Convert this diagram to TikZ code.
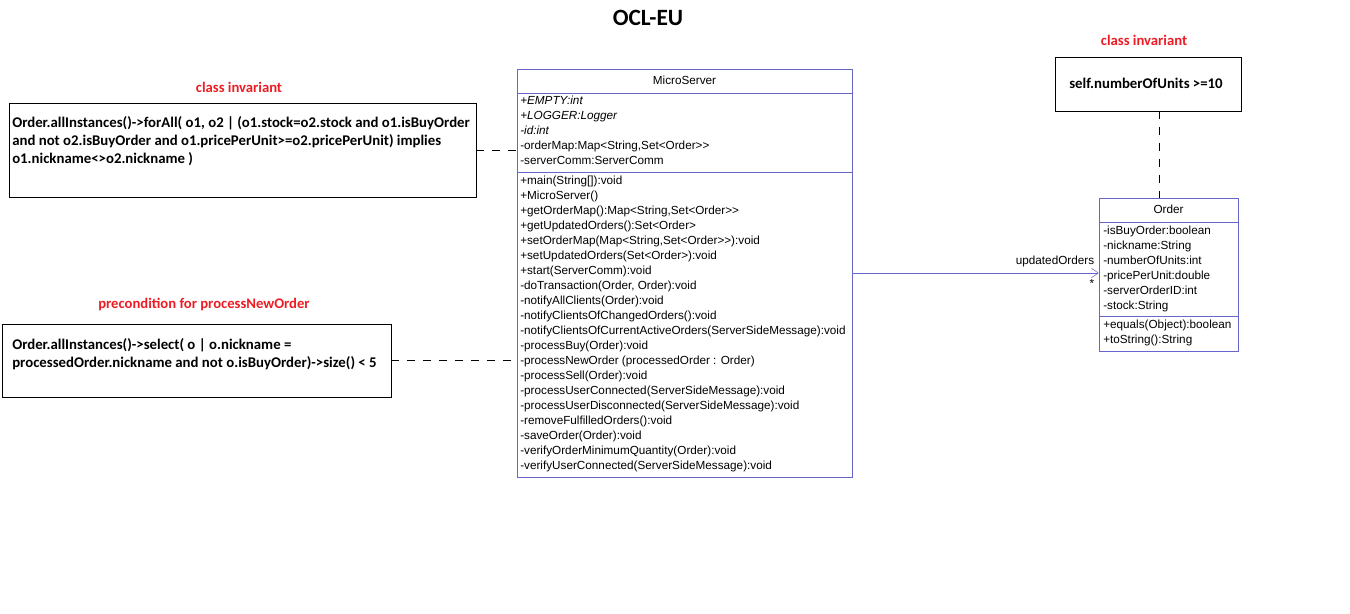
\documentclass[tikz,border=0pt]{standalone}
\usepackage{fontspec}
\setmainfont{Liberation Sans}
\newfontfamily\notefont{Carlito}
\usepackage{xcolor}
\usetikzlibrary{arrows.meta}
\definecolor{umlblue}{RGB}{102,102,204}
\definecolor{notered}{RGB}{237,28,36}
\newcommand{\RowSkip}{15}

\begin{document}
\begin{tikzpicture}[x=0.75pt,y=-0.75pt,
    member/.style={anchor=west,inner sep=0pt,text height=6.5pt,text depth=2pt,font=\fontsize{8.8}{10}\selectfont},
    umlclass/.style={draw=umlblue,rectangle,inner sep=0pt},
    notebox/.style={draw=black,rectangle,inner sep=0pt},
    notetext/.style={anchor=west,inner sep=0pt,align=left,font=\notefont\bfseries\fontsize{11.1}{13.5}\selectfont},
    notelabel/.style={text=notered,inner sep=0pt,font=\notefont\bfseries\fontsize{11}{13}\selectfont},
    anchorline/.style={dash pattern=on 6pt off 6pt}]
		\useasboundingbox (0,0) rectangle (1350,614);

		\node[inner sep=0pt,font=\notefont\bfseries\fontsize{17.5}{20}\selectfont] (title) at (648,18) {OCL-EU};

		% MicroServer class
		\node[umlclass,minimum width=251.25pt,minimum height=306pt] (ms) at (684.5,273) {};
		\draw[umlblue] (ms.west |- 0,93) -- (ms.east |- 0,93);
		\draw[umlblue] (ms.west |- 0,172) -- (ms.east |- 0,172);
		\node[member,anchor=center] (msname) at (684.5,81) {MicroServer};
		\foreach \a [count=\i] in {\textit{+EMPTY:int},\textit{+LOGGER:Logger},\textit{-id:int},
				-orderMap:Map<String{,}Set<Order>{}>,-serverComm:ServerComm}
			\node[member] (msattr\i) at (520,86+\RowSkip*\i) {\a};
		\foreach \m [count=\i] in {+main(String[]):void,+MicroServer(),
				+getOrderMap():Map<String{,}Set<Order>{}>,+getUpdatedOrders():Set<Order>,
				+setOrderMap(Map<String{,}Set<Order>{}>):void,+setUpdatedOrders(Set<Order>):void,
				+start(ServerComm):void,{-doTransaction(Order, Order):void},
				-notifyAllClients(Order):void,-notifyClientsOfChangedOrders():void,
				-notifyClientsOfCurrentActiveOrders(ServerSideMessage):void,
				-processBuy(Order):void,-processNewOrder (processedOrder : Order),
				-processSell(Order):void,-processUserConnected(ServerSideMessage):void,
				-processUserDisconnected(ServerSideMessage):void,-removeFulfilledOrders():void,
				-saveOrder(Order):void,-verifyOrderMinimumQuantity(Order):void,
				-verifyUserConnected(ServerSideMessage):void}
			\node[member] (msop\i) at (520,166+\RowSkip*\i) {\m};

		% Order class
		\node[umlclass,minimum width=104.25pt,minimum height=114.75pt] (order) at (1168.5,274.5) {};
		\draw[umlblue] (order.west |- 0,222) -- (order.east |- 0,222);
		\draw[umlblue] (order.west |- 0,316) -- (order.east |- 0,316);
		\node[member,anchor=center] (ordername) at (1168.5,210) {Order};
		\foreach \a [count=\i] in {-isBuyOrder:boolean,-nickname:String,-numberOfUnits:int,
				-pricePerUnit:double,-serverOrderID:int,-stock:String}
			\node[member] (orderattr\i) at (1103,216+\RowSkip*\i) {\a};
		\foreach \m [count=\i] in {+equals(Object):boolean,+toString():String}
			\node[member] (orderop\i) at (1103,310+\RowSkip*\i) {\m};

		% association
		\draw[umlblue,-{Straight Barb[length=5pt,width=7pt]}] (ms.east) -- (ms.east -| order.west);
		\node[member,anchor=center] (rolename) at (1055,261) {updatedOrders};
		\node[member,anchor=center] (mult) at (1092,284) {*};

		% OCL constraints
		\node[notelabel] (inv1label) at (239,87) {class invariant};
		\node[notebox,minimum width=350.25pt,minimum height=70.5pt] (inv1) at (242.5,150) {};
		\node[notetext] (inv1text) at (12,141) {Order.allInstances()->forAll( o1, o2 | (o1.stock=o2.stock and o1.isBuyOrder\\
			and not o2.isBuyOrder and o1.pricePerUnit>=o2.pricePerUnit) implies\\
			o1.nickname<>o2.nickname )};
		\draw[anchorline] (inv1.east) -- (inv1.east -| ms.west);

		\node[notelabel] (prelabel) at (204,304) {precondition for processNewOrder};
		\node[notebox,minimum width=291.75pt,minimum height=54.75pt] (pre) at (196.5,360.5) {};
		\node[notetext] (pretext) at (12,354) {Order.allInstances()->select( o | o.nickname =\\
			processedOrder.nickname and not o.isBuyOrder)->size() < 5};
		\draw[anchorline] (pre.east) -- (pre.east -| ms.west);

		\node[notelabel] (inv2label) at (1144,40) {class invariant};
		\node[notebox,minimum width=139.5pt,minimum height=40.5pt] (inv2) at (1148,84) {};
		\node[notetext,anchor=center] (inv2text) at (1146,83) {self.numberOfUnits >=10};
		\draw[anchorline] ([xshift=8.25pt]inv2.south) -- ([xshift=8.25pt]inv2.south |- order.north);
	\end{tikzpicture}
\end{document}
